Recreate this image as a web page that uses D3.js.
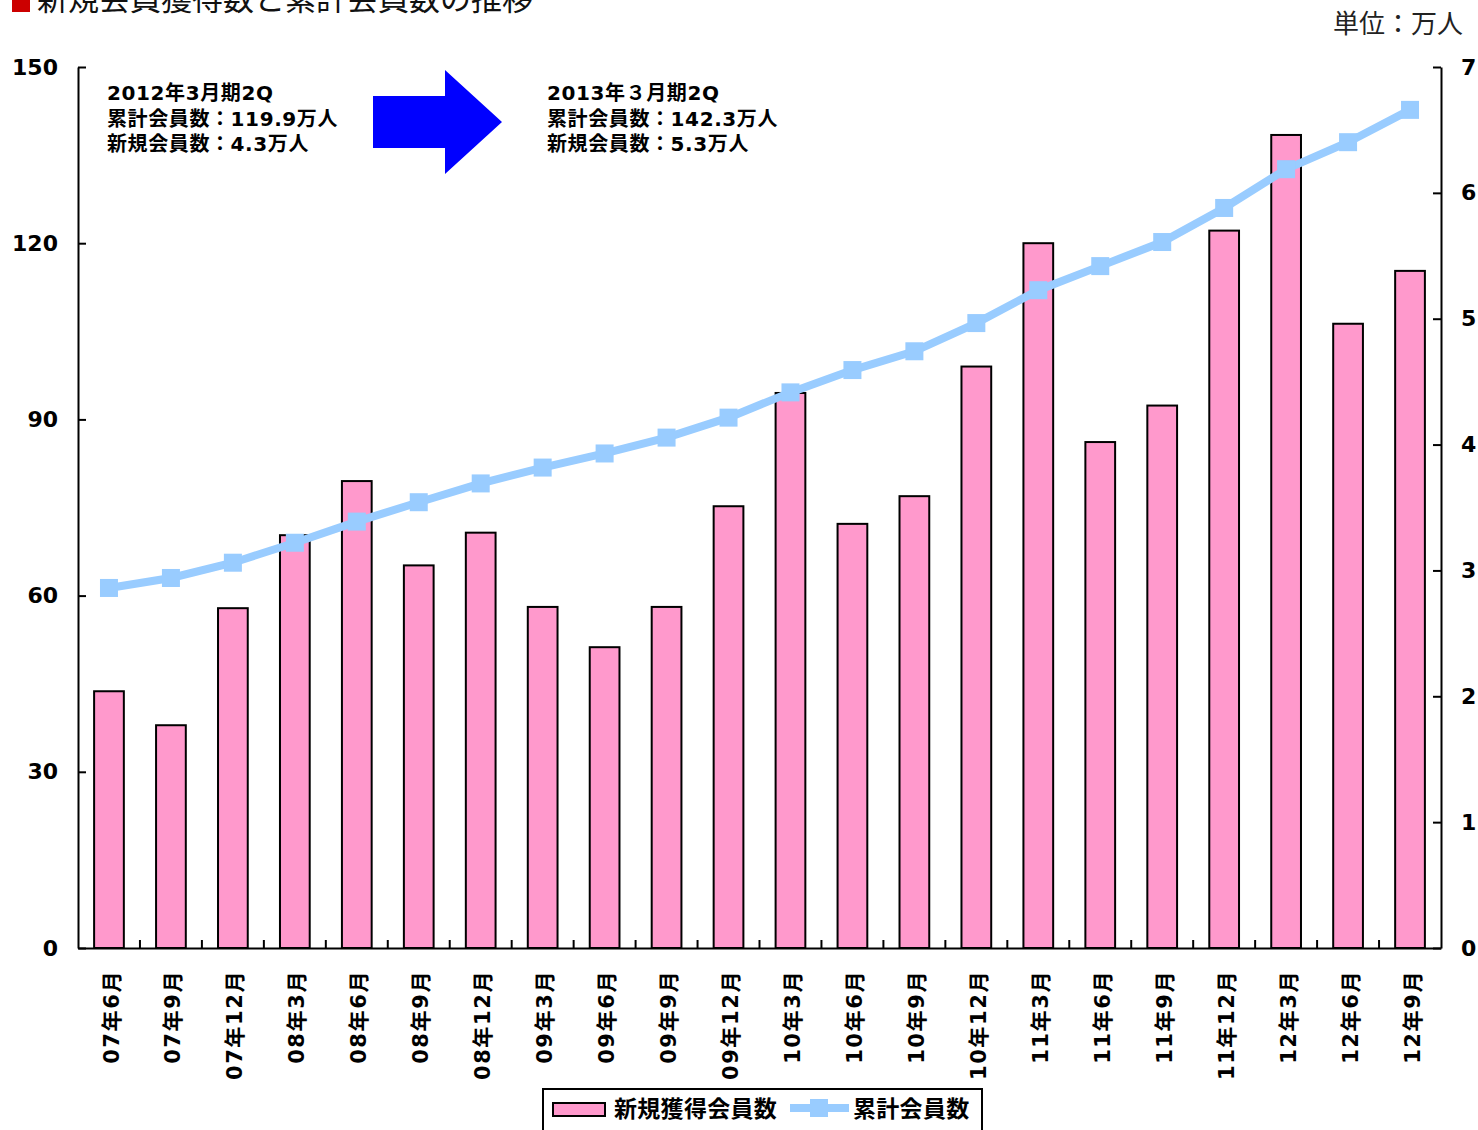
<!DOCTYPE html>
<html><head><meta charset="utf-8">
<script src="https://cdn.jsdelivr.net/npm/d3@7"></script>
<style>
html,body{margin:0;padding:0;background:#fff;}
svg{display:block;}
text{font-family:"DejaVu Sans","Noto Sans CJK JP",sans-serif;}
</style></head>
<body>
<script>
const categories = ["07年6月","07年9月","07年12月","08年3月","08年6月","08年9月","08年12月","09年3月","09年6月","09年9月","09年12月","10年3月","10年6月","10年9月","10年12月","11年3月","11年6月","11年9月","11年12月","12年3月","12年6月","12年9月"];
const newMembers = [2.04,1.77,2.70,3.28,3.71,3.04,3.30,2.71,2.39,2.71,3.51,4.41,3.37,3.59,4.62,5.60,4.02,4.31,5.70,6.46,4.96,5.38];
const totalMembers = [61.3,63.0,65.6,69.0,72.6,75.9,79.1,81.8,84.2,86.9,90.3,94.6,98.4,101.6,106.4,112.0,116.1,120.2,126.0,132.6,137.2,142.7];
const leftTicks = [0,30,60,90,120,150];
const rightTicks = [0,1,2,3,4,5,6,7];
const titleText = "新規会員獲得数と累計会員数の推移";
const unitText = "単位：万人";
const noteBefore = ["2012年3月期2Q","累計会員数：119.9万人","新規会員数：4.3万人"];
const noteAfter = ["2013年３月期2Q","累計会員数：142.3万人","新規会員数：5.3万人"];
const legendBar = "新規獲得会員数";
const legendLine = "累計会員数";

const W = 1478, H = 1130;
const L = 78, R = 1441, T = 67, B = 948;
const svg = d3.select("body").append("svg").attr("width", W).attr("height", H);

const x = d3.scaleBand().domain(categories).range([L, R]).padding(0);
const yL = d3.scaleLinear().domain([0,150]).range([B, T]);
const yR = d3.scaleLinear().domain([0,7]).range([B, T]);

// title
svg.append("rect").attr("x",12).attr("y",-4).attr("width",18).attr("height",16).attr("fill","#cc0000");
svg.append("text").attr("x",37).attr("y",10).attr("font-size",31).attr("fill","#111").text(titleText);
svg.append("text").attr("x",1463).attr("y",33).attr("text-anchor","end").attr("font-size",26).attr("fill","#222").text(unitText);

// bars
const bw = x.bandwidth()*0.48;
svg.append("g").selectAll("rect").data(categories).join("rect")
  .attr("x", d => x(d) + (x.bandwidth()-bw)/2)
  .attr("y", (d,i) => yR(newMembers[i]))
  .attr("width", bw)
  .attr("height", (d,i) => B - yR(newMembers[i]))
  .attr("fill","#ff99cc").attr("stroke","#000").attr("stroke-width",2);

// line
const cx = d => x(d) + x.bandwidth()/2;
svg.append("path").datum(categories)
  .attr("d", d3.line().x(d => cx(d)).y((d,i) => yL(totalMembers[i])))
  .attr("fill","none").attr("stroke","#99ccff").attr("stroke-width",8);
svg.append("g").selectAll("rect").data(categories).join("rect")
  .attr("x", d => cx(d)-9).attr("y",(d,i)=>yL(totalMembers[i])-9)
  .attr("width",18).attr("height",18).attr("fill","#99ccff");

// axes
const axL = svg.append("g").attr("transform",`translate(${L},0)`)
  .call(d3.axisLeft(yL).tickValues(leftTicks).tickFormat(d3.format("d")).tickSizeInner(-8).tickSizeOuter(0).tickPadding(20));
const axR = svg.append("g").attr("transform",`translate(${R},0)`)
  .call(d3.axisRight(yR).tickValues(rightTicks).tickFormat(d3.format("d")).tickSizeInner(-8).tickSizeOuter(0).tickPadding(20));
const axB = svg.append("g").attr("transform",`translate(0,${B})`)
  .call(d3.axisBottom(x).tickSize(0).tickPadding(0));
[axL,axR,axB].forEach(g=>{
  g.select(".domain").attr("stroke","#000").attr("stroke-width",2);
  g.selectAll(".tick line").attr("stroke","#000").attr("stroke-width",2);
});
[axL,axR].forEach(g=>g.selectAll(".tick text").attr("font-size",22).attr("font-weight","bold").attr("fill","#000").attr("font-family","DejaVu Sans, sans-serif"));
axB.selectAll(".tick text")
  .attr("font-size",21).attr("font-weight","bold").attr("fill","#000")
  .attr("letter-spacing","1.6")
  .attr("text-anchor","end").attr("dy","0.36em")
  .attr("transform","translate(2,22) rotate(-90)").attr("x",0).attr("y",0);
// category boundary ticks (inside)
svg.append("g").selectAll("line").data(categories.slice(1)).join("line")
  .attr("x1", d=>x(d)).attr("x2", d=>x(d)).attr("y1",B).attr("y2",B-8)
  .attr("stroke","#000").attr("stroke-width",2);

// annotations
function note(lines, x0){
  const g = svg.append("g");
  lines.forEach((t,i)=>g.append("text").attr("x",x0).attr("y",100+i*25.5)
    .attr("font-size",20).attr("letter-spacing","0.6").attr("font-weight","bold").attr("fill","#000").text(t));
}
note(noteBefore,107);
note(noteAfter,547);
svg.append("path").attr("d","M373,96 L445,96 L445,70 L502,122 L445,174 L445,148 L373,148 Z").attr("fill","#0000ff");

// legend
const lg = svg.append("g");
lg.append("rect").attr("x",543).attr("y",1089).attr("width",439).attr("height",50).attr("fill","#fff").attr("stroke","#000").attr("stroke-width",2);
lg.append("rect").attr("x",553).attr("y",1103).attr("width",52).attr("height",13).attr("fill","#ff99cc").attr("stroke","#000").attr("stroke-width",2);
lg.append("text").attr("x",614).attr("y",1117).attr("font-size",23).attr("letter-spacing","0.3").attr("font-weight","bold").attr("fill","#000").text(legendBar);
lg.append("line").attr("x1",790).attr("x2",849).attr("y1",1108).attr("y2",1108).attr("stroke","#99ccff").attr("stroke-width",8);
lg.append("rect").attr("x",810).attr("y",1099).attr("width",18).attr("height",18).attr("fill","#99ccff");
lg.append("text").attr("x",853).attr("y",1117).attr("font-size",23).attr("letter-spacing","0.3").attr("font-weight","bold").attr("fill","#000").text(legendLine);
</script>
</body></html>
